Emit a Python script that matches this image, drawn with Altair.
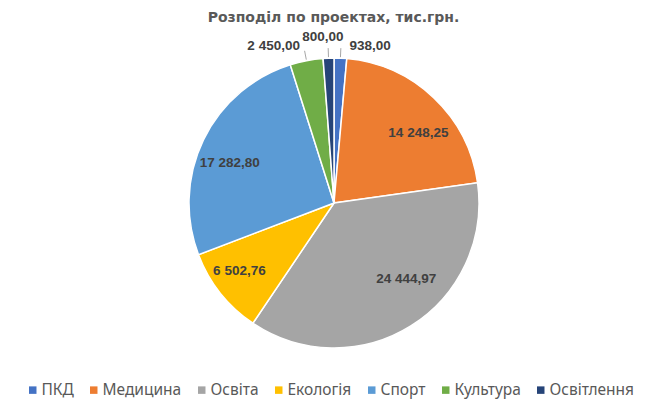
import altair as alt
import pandas as pd

title_text = "Розподіл по проектах, тис.грн."
categories = ["ПКД", "Медицина", "Освіта", "Екологія", "Спорт", "Культура", "Освітлення"]
values = [938.00, 14248.25, 24444.97, 6502.76, 17282.80, 2450.00, 800.00]
colors = ["#4472C4", "#ED7D31", "#A5A5A5", "#FFC000", "#5B9BD5", "#70AD47", "#264478"]
labels = [f"{v:,.2f}".replace(",", " ").replace(".", ",") for v in values]

df = pd.DataFrame({
    "category": categories,
    "value": values,
    "label": labels,
    "idx": list(range(len(categories))),
})

CX, CY, R = 326, 195, 145

base = (
    alt.Chart(df)
    .transform_joinaggregate(total="sum(value)")
    .transform_window(cum="sum(value)", sort=[alt.SortField("idx")])
    .transform_calculate(
        mid="(datum.cum - datum.value/2) / datum.total * 2 * PI",
        share="datum.value / datum.total",
    )
)

arcs = alt.Chart(df).mark_arc(outerRadius=R, stroke="white", strokeWidth=1.5).encode(
    theta=alt.Theta("value:Q", stack=True),
    color=alt.Color(
        "category:N",
        scale=alt.Scale(domain=categories, range=colors),
        sort=categories,
        legend=alt.Legend(
            orient="none",
            legendX=17,
            legendY=374,
            direction="horizontal",
            title=None,
            symbolType="square",
            symbolSize=56,
            symbolStrokeWidth=0,
            labelFont="Noto Sans",
            labelFontSize=15.5,
            labelColor="#595959",
            labelOffset=1,
            labelLimit=200,
            columnPadding=12,
            padding=0,
        ),
    ),
    order=alt.Order("idx:Q"),
    x=alt.value(CX),
    y=alt.value(CY),
)


def label_layer(cat, rad, dx, dy):
    return (
        base.transform_filter(alt.datum.category == cat)
        .transform_calculate(
            lx=f"{CX} + {rad} * sin(datum.mid)",
            ly=f"{CY} - {rad} * cos(datum.mid)",
        )
        .mark_text(dx=dx, dy=dy, fontSize=13.5, fontWeight="bold", color="#404040",
                   font="Liberation Sans", align="center", baseline="middle")
        .encode(
            x=alt.X("lx:Q", scale=None, axis=None),
            y=alt.Y("ly:Q", scale=None, axis=None),
            text="label:N",
        )
    )


texts = [
    label_layer("Медицина", 108, 10, 8),
    label_layer("Освіта", 108, 15, -16),
    label_layer("Екологія", 108, -10, 1),
    label_layer("Спорт", 108, -7, 7),
    label_layer("ПКД", 160, 29, 3),
    label_layer("Освітлення", 160, -5, -6),
    label_layer("Культура", 160, -30, 0),
]

leaders = (
    base.transform_filter("datum.share < 0.05")
    .transform_calculate(
        x1=f"{CX} + 146 * sin(datum.mid)",
        y1=f"{CY} - 146 * cos(datum.mid)",
        x2=f"{CX} + 155 * sin(datum.mid)",
        y2=f"{CY} - 155 * cos(datum.mid)",
    )
    .mark_rule(color="#A6A6A6", strokeWidth=1)
    .encode(
        x=alt.X("x1:Q", scale=None, axis=None),
        y=alt.Y("y1:Q", scale=None, axis=None),
        x2="x2:Q",
        y2="y2:Q",
    )
)

title = alt.Chart(pd.DataFrame({"t": [title_text]})).mark_text(
    fontSize=14, fontWeight="bold", color="#595959", font="DejaVu Sans",
    align="center", baseline="alphabetic",
).encode(x=alt.value(325.5), y=alt.value(14), text="t:N")

chart = alt.layer(arcs, leaders, *texts, title).properties(
    width=649, height=397, autosize="none", padding=0
).configure_view(strokeWidth=0)

chart.save("out.html", embed_options={"renderer": "svg", "actions": False})
